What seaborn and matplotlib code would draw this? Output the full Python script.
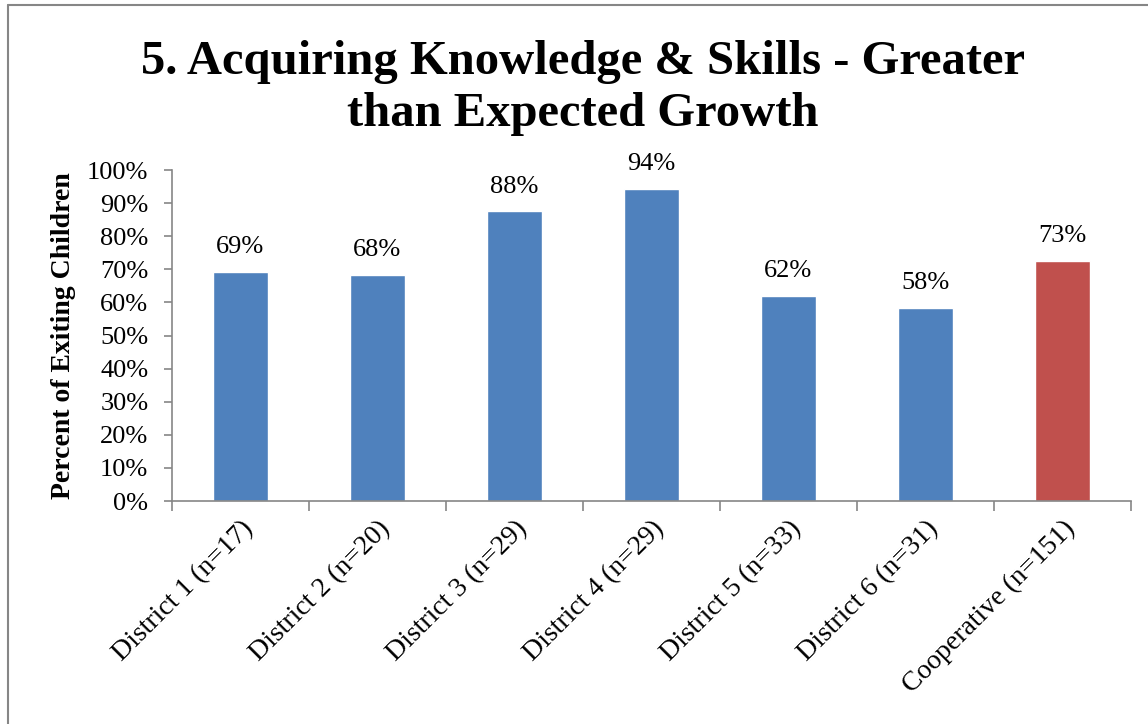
import numpy as np
import pandas as pd
import matplotlib
matplotlib.use("Agg")
import matplotlib.pyplot as plt
import seaborn as sns
from matplotlib.lines import Line2D
from matplotlib.ticker import FixedLocator, PercentFormatter

# data
groups = ["District 1 (n=17)", "District 2 (n=20)", "District 3 (n=29)",
          "District 4 (n=29)", "District 5 (n=33)", "District 6 (n=31)",
          "Cooperative (n=151)"]
percents = [69.2, 68.3, 87.5, 94.3, 62.1, 58.3, 72.6]
labels = ["69%", "68%", "88%", "94%", "62%", "58%", "73%"]
bar_colors = ["#4F81BD"] * 6 + ["#C0504D"]

sns.set_style("white")
plt.rcParams["font.family"] = ["Liberation Serif", "DejaVu Serif"]
plt.rcParams["text.color"] = "black"
plt.rcParams["xtick.color"] = "black"
plt.rcParams["ytick.color"] = "black"
plt.rcParams["axes.labelcolor"] = "black"

df = pd.DataFrame({"group": groups, "pct": percents})

fig = plt.figure(figsize=(11.48, 7.24), dpi=100)
ax = fig.add_axes([0.1498, 0.308, 0.8352, 0.457])

sns.barplot(data=df, x="group", y="pct", hue="group", palette=bar_colors,
            width=0.4, legend=False, ax=ax, saturation=1)

ax.set_ylim(0, 100)
ax.set_xlim(-0.5, len(groups) - 0.5)
ax.yaxis.set_major_locator(FixedLocator(np.arange(0, 101, 10)))
ax.yaxis.set_major_formatter(PercentFormatter(decimals=0))

# category boundary ticks on x axis
ax.xaxis.set_minor_locator(FixedLocator(np.arange(-0.5, len(groups), 1)))
ax.tick_params(axis="x", which="major", length=0, pad=11)
ax.tick_params(axis="x", which="minor", length=7, width=1.2, color="#868686", direction="out", bottom=True)
ax.tick_params(axis="y", length=6, width=1.2, color="#868686", labelcolor="black",
               direction="out", left=True, labelsize=19, pad=11)

for lab in ax.get_xticklabels():
    lab.set_rotation(45)
    lab.set_ha("right")
    lab.set_rotation_mode("anchor")
    lab.set_fontsize(20)

for sp in ["top", "right"]:
    ax.spines[sp].set_visible(False)
for sp in ["left", "bottom"]:
    ax.spines[sp].set_color("#868686")
    ax.spines[sp].set_linewidth(1.2)

for i, (v, t) in enumerate(zip(percents, labels)):
    ax.annotate(t, (i, v), xytext=(0, 10), textcoords="offset points",
                ha="center", va="bottom", fontsize=19)

ax.set_xlabel("")
ax.set_ylabel("Percent of Exiting Children", fontsize=20, fontweight="bold", labelpad=8)

fig.text(0.508, 0.879, "5. Acquiring Knowledge & Skills - Greater\nthan Expected Growth",
         ha="center", va="center", fontsize=35, fontweight="bold", linespacing=1.24)

# outer chart border (left and top edges visible)
W, H = 1148, 724
fig.add_artist(Line2D([8 / W, 8 / W], [0, 1 - 5 / H], transform=fig.transFigure, color="#868686", lw=1.5))
fig.add_artist(Line2D([8 / W, 1], [1 - 5 / H, 1 - 5 / H], transform=fig.transFigure, color="#868686", lw=1.5))

fig.savefig("out.png", dpi=100)
